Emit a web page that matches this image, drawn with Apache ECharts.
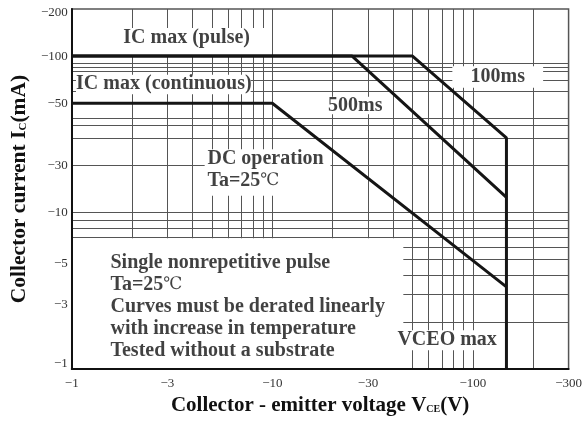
<!DOCTYPE html>
<html><head><meta charset="utf-8">
<script src="https://cdn.jsdelivr.net/npm/echarts@6/dist/echarts.min.js"></script>
<style>html,body{margin:0;padding:0;background:#fff}#c{width:585px;height:421px}</style>
</head><body><div id="c"></div>
<script>
// ---- data (|V_CE| in V, |I_C| in mA) ----
const xTickValues = [1, 3, 10, 30, 100, 300];
const xTickLabels = ['−1', '−3', '−10', '−30', '−100', '−300'];
// values at which the reference prints its y labels
const yTickValues = [190, 100, 50, 20, 10, 4.7, 2.6, 1.08];
const yTickLabels = ['−200', '−100', '−50', '−30', '−10', '−5', '−3', '−1'];
const xGridValues = [2, 3, 4, 5, 6, 7, 8, 9, 10, 20, 30, 40, 50, 60, 70, 80, 90, 100, 200];
const yGridValues = [2, 3, 4, 5, 6, 7, 8, 9, 10, 20, 30, 36, 40, 60, 70, 80, 85, 90];
const pulse100ms = [[1, 100], [50, 100], [147, 30], [147, 1]];
const pulse500ms = [[1, 100], [25, 100], [147, 12.5]];
const dcOperation = [[1, 50], [10, 50], [147, 3.35]];
const noteTexts = [
  'IC max (pulse)',
  'IC max (continuous)',
  '500ms',
  '100ms',
  'DC operation\nTa=25{d|℃}',
  'Single nonrepetitive pulse\nTa=25{d|℃}\nCurves must be derated linearly\nwith increase in temperature\nTested without a substrate',
  'VCEO max'
];

// ---- layout of annotations (data coordinates) ----
const noteAnchors = [[3.74, 131], [2.88, 66.3], [25.9, 48.4], [133, 73.9], [4.75, 18.7], [1.56, 2.51], [74.4, 1.53]];
const noteAlign = ['center', 'center', 'center', 'center', 'left', 'left', 'center'];
// white boxes where the reference's grid is interrupted behind text
const whiteBoxes = [
  [[1, 100], [9.6, 151]],
  [[1.05, 57], [7.8, 76]],
  [[16.4, 42.5], [38.9, 55]],
  [[79, 62.7], [224, 86]],
  [[4.6, 12.8], [19.5, 25.4]],
  [[1, 1], [45, 6.85]],
  [[42, 1.32], [131, 1.77]]
];

const SERIF = '"Liberation Serif", "Times New Roman", serif';
const gridLineStyle = { color: '#555', width: 1, type: 'solid' };
const curveStyle = { color: '#151515', width: 3 };

const chart = echarts.init(document.getElementById('c'), null, { renderer: 'canvas' });
chart.setOption({
  animation: false,
  backgroundColor: '#fff',
  grid: { left: 71, right: 12, top: 9, bottom: 50, show: true, borderColor: '#555', borderWidth: 1.5, backgroundColor: 'transparent' },
  xAxis: {
    type: 'log', logBase: 10, min: 1, max: 300, z: 6,
    axisLine: { show: true, onZero: false, lineStyle: { color: '#111', width: 2 } },
    axisTick: { show: false },
    splitLine: { show: false },
    axisLabel: {
      customValues: xTickValues,
      formatter: v => { const i = xTickValues.findIndex(t => Math.abs(t - v) < 1e-6 * t); return i >= 0 ? xTickLabels[i] : ''; },
      fontFamily: SERIF, fontSize: 13, color: '#333', margin: 8
    },
    name: 'Collector - emitter voltage V{sub|CE}(V)',
    nameLocation: 'middle', nameGap: 25,
    nameTextStyle: { fontFamily: SERIF, fontSize: 21, fontWeight: 'bold', color: '#111',
      rich: { sub: { fontFamily: SERIF, fontSize: 10, fontWeight: 'bold', color: '#111', padding: [8, 0, 0, 0] } } }
  },
  yAxis: {
    type: 'log', logBase: 10, min: 1, max: 200, z: 6,
    axisLine: { show: true, onZero: false, lineStyle: { color: '#111', width: 2 } },
    axisTick: { show: false },
    splitLine: { show: false },
    axisLabel: {
      customValues: yTickValues,
      formatter: v => { const i = yTickValues.findIndex(t => Math.abs(t - v) < 1e-6 * t); return i >= 0 ? yTickLabels[i] : ''; },
      fontFamily: SERIF, fontSize: 13, color: '#333', margin: 4
    },
    name: 'Collector current I{sub|C}(mA)',
    nameLocation: 'middle', nameGap: 37, nameRotate: 90,
    nameTextStyle: { fontFamily: SERIF, fontSize: 21.5, fontWeight: 'bold', color: '#111',
      rich: { sub: { fontFamily: SERIF, fontSize: 11, fontWeight: 'bold', color: '#111', padding: [8, 0, 0, 0] } } }
  },
  series: [
    {
      type: 'line', name: 'grid', data: [], z: 1, silent: true,
      markLine: {
        z: 1, silent: true, symbol: ['none', 'none'], label: { show: false }, lineStyle: gridLineStyle, animation: false,
        data: xGridValues.map(v => ({ xAxis: v })).concat(yGridValues.map(v => ({ yAxis: v })))
      }
    },
    {
      type: 'line', name: 'mask', data: [], z: 2, silent: true,
      markArea: {
        z: 2, silent: true, itemStyle: { color: '#fff', opacity: 1 }, label: { show: false }, animation: false,
        data: whiteBoxes.map(b => [{ coord: b[0] }, { coord: b[1] }])
      }
    },
    { type: 'line', name: '100ms', data: pulse100ms, z: 3, showSymbol: false, lineStyle: curveStyle, silent: true },
    { type: 'line', name: '500ms', data: pulse500ms, z: 3, showSymbol: false, lineStyle: curveStyle, silent: true },
    { type: 'line', name: 'DC', data: dcOperation, z: 3, showSymbol: false, lineStyle: curveStyle, silent: true },
    {
      type: 'scatter', name: 'notes', z: 4, symbolSize: 0, silent: true,
      data: noteTexts.map((t, i) => ({
        value: noteAnchors[i],
        label: {
          show: true, formatter: t,
          position: noteAlign[i] === 'left' ? 'right' : 'inside',
          distance: 0, align: noteAlign[i],
          fontFamily: SERIF, fontSize: 20, fontWeight: 'bold', color: '#111', lineHeight: 22,
          rich: { d: { fontFamily: '"DejaVu Serif", serif', fontSize: 17, fontWeight: 'normal', color: '#111', lineHeight: 22 } }
        }
      }))
    }
  ]
});
</script></body></html>
